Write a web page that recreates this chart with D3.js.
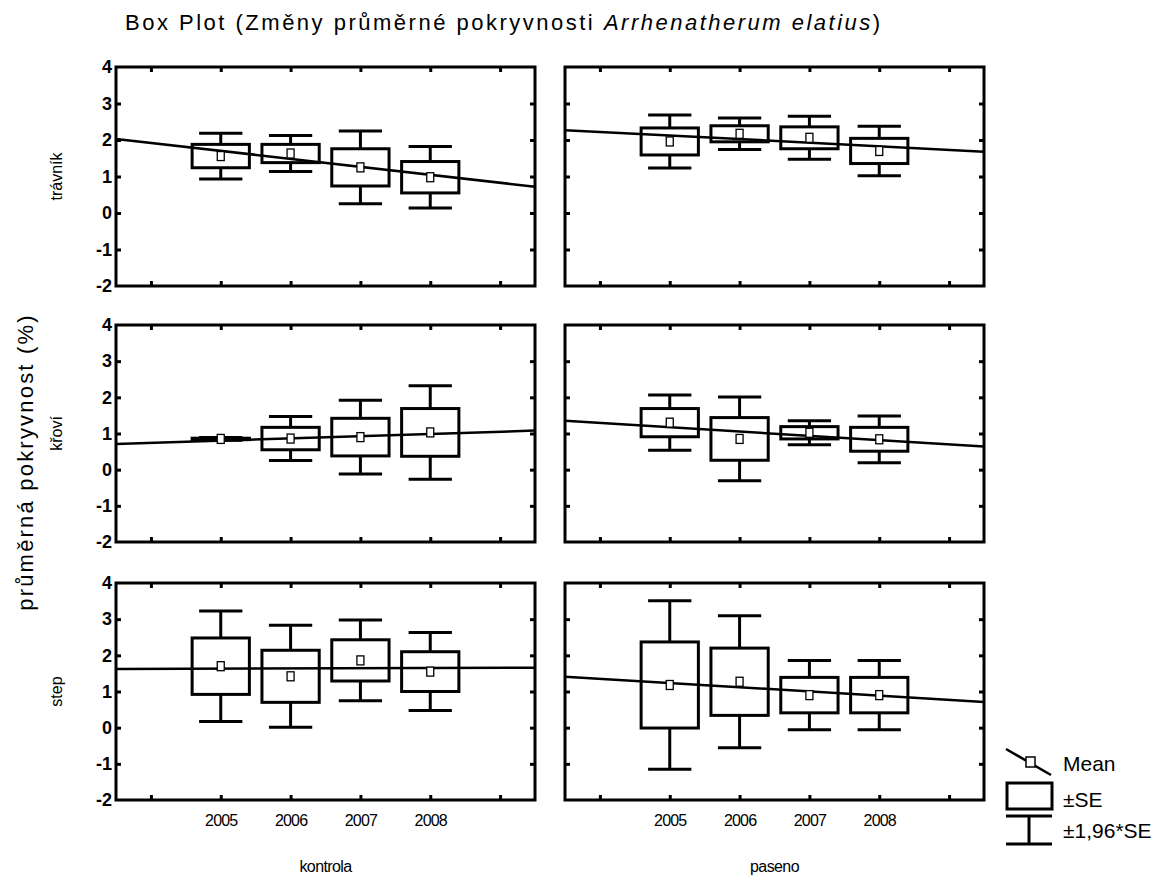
<!DOCTYPE html>
<html lang="cs">
<head>
<meta charset="UTF-8">
<title>Box Plot</title>
<script src="https://d3js.org/d3.v7.min.js"></script>
<style>
  body { margin: 0; background: #fff; }
  svg { font-family: "Liberation Sans", Arial, sans-serif; }
</style>
</head>
<body>
<svg width="1170" height="879"></svg>
<script>
    // categories
    const years = [2005, 2006, 2007, 2008]
    const rows = ["trávník", "křoví", "step"]
    const cols = ["kontrola", "paseno"]
    const yTicks = [-2, -1, 0, 1, 2, 3, 4]
    const xTicks = [2004, 2005, 2006, 2007, 2008, 2009]

    // means and standard errors (box = ±SE, whiskers = ±1,96*SE)
    const travnikKontrolaMean = [1.56, 1.63, 1.25, 0.98]
    const travnikKontrolaSE   = [0.32, 0.25, 0.51, 0.43]
    const travnikPasenoMean   = [1.96, 2.17, 2.06, 1.70]
    const travnikPasenoSE     = [0.37, 0.22, 0.30, 0.345]
    const kroviKontrolaMean   = [0.85, 0.86, 0.90, 1.03]
    const kroviKontrolaSE     = [0.02, 0.31, 0.52, 0.66]
    const kroviPasenoMean     = [1.30, 0.85, 1.02, 0.84]
    const kroviPasenoSE       = [0.39, 0.59, 0.17, 0.33]
    const stepKontrolaMean    = [1.70, 1.42, 1.86, 1.55]
    const stepKontrolaSE      = [0.78, 0.72, 0.57, 0.55]
    const stepPasenoMean      = [1.18, 1.27, 0.90, 0.90]
    const stepPasenoSE        = [1.19, 0.93, 0.49, 0.49]

    // fitted line, value at left and right edge of each panel
    const travnikKontrolaFit = [2.03, 0.72]
    const travnikPasenoFit   = [2.27, 1.68]
    const kroviKontrolaFit   = [0.71, 1.08]
    const kroviPasenoFit     = [1.35, 0.64]
    const stepKontrolaFit    = [1.62, 1.66]
    const stepPasenoFit      = [1.41, 0.71]

    const panels = [
        [[travnikKontrolaMean, travnikKontrolaSE, travnikKontrolaFit], [travnikPasenoMean, travnikPasenoSE, travnikPasenoFit]],
        [[kroviKontrolaMean, kroviKontrolaSE, kroviKontrolaFit], [kroviPasenoMean, kroviPasenoSE, kroviPasenoFit]],
        [[stepKontrolaMean, stepKontrolaSE, stepKontrolaFit], [stepPasenoMean, stepPasenoSE, stepPasenoFit]]
    ]

    let svg = d3.select("svg")

    // panel layout
    const colX = [[116, 535], [565, 984]]
    const rowY = [[67, 286], [325, 542], [583, 800]]
    const xDomain = [2003.5, 2009.5]

    // title
    let title = svg.append("text")
        .attr("x", 125).attr("y", 30)
        .attr("font-size", 22)
        .attr("letter-spacing", 2.5)
    title.append("tspan").text("Box Plot (Změny průměrné pokryvnosti ")
    title.append("tspan").attr("font-style", "italic").text("Arrhenatherum elatius")
    title.append("tspan").text(")")

    // y axis title
    svg.append("text")
        .attr("transform", "translate(33,462) rotate(-90)")
        .attr("text-anchor", "middle")
        .attr("font-size", 22)
        .attr("letter-spacing", 2.2)
        .text("průměrná pokryvnost (%)")

    rows.forEach((rowName, r) => {
        let y = d3.scaleLinear().domain([-2, 4]).range([rowY[r][1], rowY[r][0]])

        // row label
        svg.append("text")
            .attr("transform", `translate(62,${(rowY[r][0] + rowY[r][1]) / 2}) rotate(-90)`)
            .attr("text-anchor", "middle")
            .attr("font-size", 16)
            .text(rowName)

        cols.forEach((colName, c) => {
            let x = d3.scaleLinear().domain(xDomain).range(colX[c])
            let [means, ses, fit] = panels[r][c]
            let g = svg.append("g")

            // inward ticks on all four sides
            const tickStyle = sel => {
                sel.select(".domain").remove()
                sel.selectAll(".tick line").attr("stroke", "#000").attr("stroke-width", 3)
                sel.selectAll(".tick text").remove()
            }
            g.append("g").attr("transform", `translate(0,${rowY[r][0]})`)
                .call(d3.axisTop(x).tickValues(xTicks).tickSize(-5)).call(tickStyle)
            g.append("g").attr("transform", `translate(0,${rowY[r][1]})`)
                .call(d3.axisBottom(x).tickValues(xTicks).tickSize(-5)).call(tickStyle)
            g.append("g").attr("transform", `translate(${colX[c][0]},0)`)
                .call(d3.axisLeft(y).tickValues(yTicks.slice(1, -1)).tickSize(-5)).call(tickStyle)
            g.append("g").attr("transform", `translate(${colX[c][1]},0)`)
                .call(d3.axisRight(y).tickValues(yTicks.slice(1, -1)).tickSize(-5)).call(tickStyle)

            // y tick labels on the left column
            if (c === 0) {
                let yl = g.append("g").attr("transform", `translate(${colX[c][0]},0)`)
                    .call(d3.axisLeft(y).tickValues(yTicks).tickSize(0).tickPadding(4).tickFormat(d => String(d)))
                yl.select(".domain").remove()
                yl.attr("font-size", 18).attr("font-family", "'Liberation Sans', Arial, sans-serif")
                yl.selectAll("text").attr("font-weight", "bold").attr("fill", "#000")
            }

            // year labels and column label under the bottom row
            if (r === rows.length - 1) {
                let xl = g.append("g").attr("transform", `translate(0,${rowY[r][1]})`)
                    .call(d3.axisBottom(x).tickValues(years).tickSize(0).tickPadding(15).tickFormat(d3.format("d")))
                xl.select(".domain").remove()
                xl.attr("font-size", 16).attr("font-family", "'Liberation Sans', Arial, sans-serif")
                xl.selectAll("text").attr("letter-spacing", -0.8).attr("fill", "#000")
                svg.append("text")
                    .attr("x", (colX[c][0] + colX[c][1]) / 2).attr("y", 872)
                    .attr("text-anchor", "middle")
                    .attr("font-size", 16).attr("letter-spacing", -0.6)
                    .text(colName)
            }

            // frame
            g.append("rect")
                .attr("x", colX[c][0]).attr("y", rowY[r][0])
                .attr("width", colX[c][1] - colX[c][0]).attr("height", rowY[r][1] - rowY[r][0])
                .attr("fill", "none").attr("stroke", "#000").attr("stroke-width", 3)

            // boxes (±SE)
            g.selectAll(".box").data(years).enter().append("rect")
                .attr("x", d => x(d - 0.41))
                .attr("width", d => x(d + 0.41) - x(d - 0.41))
                .attr("y", (d, i) => y(means[i] + ses[i]))
                .attr("height", (d, i) => y(means[i] - ses[i]) - y(means[i] + ses[i]))
                .attr("fill", "none").attr("stroke", "#000").attr("stroke-width", 3)

            // whiskers (±1,96*SE)
            years.forEach((yr, i) => {
                let hi = means[i] + 1.96 * ses[i]
                let lo = means[i] - 1.96 * ses[i]
                let wg = g.append("g").attr("stroke", "#000").attr("stroke-width", 3)
                wg.append("line").attr("x1", x(yr)).attr("x2", x(yr))
                    .attr("y1", y(hi)).attr("y2", y(means[i] + ses[i]))
                wg.append("line").attr("x1", x(yr)).attr("x2", x(yr))
                    .attr("y1", y(means[i] - ses[i])).attr("y2", y(lo))
                wg.append("line").attr("x1", x(yr - 0.31)).attr("x2", x(yr + 0.31))
                    .attr("y1", y(hi)).attr("y2", y(hi))
                wg.append("line").attr("x1", x(yr - 0.31)).attr("x2", x(yr + 0.31))
                    .attr("y1", y(lo)).attr("y2", y(lo))
            })

            // fitted line
            g.append("line")
                .attr("x1", x(xDomain[0])).attr("x2", x(xDomain[1]))
                .attr("y1", y(fit[0])).attr("y2", y(fit[1]))
                .attr("stroke", "#000").attr("stroke-width", 2.5)

            // means
            g.selectAll(".mean").data(years).enter().append("rect")
                .attr("x", d => x(d) - 3.5).attr("width", 7)
                .attr("y", (d, i) => y(means[i]) - 4.5).attr("height", 9)
                .attr("fill", "#fff").attr("stroke", "#000").attr("stroke-width", 1.3)
        })
    })

    // legend
    let lg = svg.append("g").attr("stroke", "#000")
    lg.append("line").attr("x1", 1006).attr("y1", 749).attr("x2", 1051).attr("y2", 775).attr("stroke-width", 2.5)
    lg.append("rect").attr("x", 1026).attr("y", 757).attr("width", 9).attr("height", 10)
        .attr("fill", "#fff").attr("stroke-width", 1.5)
    lg.append("rect").attr("x", 1007).attr("y", 783).attr("width", 45).attr("height", 26)
        .attr("fill", "none").attr("stroke-width", 3)
    lg.append("line").attr("x1", 1006).attr("x2", 1052).attr("y1", 816).attr("y2", 816).attr("stroke-width", 3)
    lg.append("line").attr("x1", 1029).attr("x2", 1029).attr("y1", 816).attr("y2", 844).attr("stroke-width", 3)
    lg.append("line").attr("x1", 1006).attr("x2", 1052).attr("y1", 844).attr("y2", 844).attr("stroke-width", 3)

    const legendLabels = ["Mean", "±SE", "±1,96*SE"]
    const legendY = [771, 807, 838]
    svg.selectAll(".legtext").data(legendLabels).enter().append("text")
        .attr("x", 1063).attr("y", (d, i) => legendY[i])
        .attr("font-size", 21)
        .text(d => d)
</script>
</body>
</html>
